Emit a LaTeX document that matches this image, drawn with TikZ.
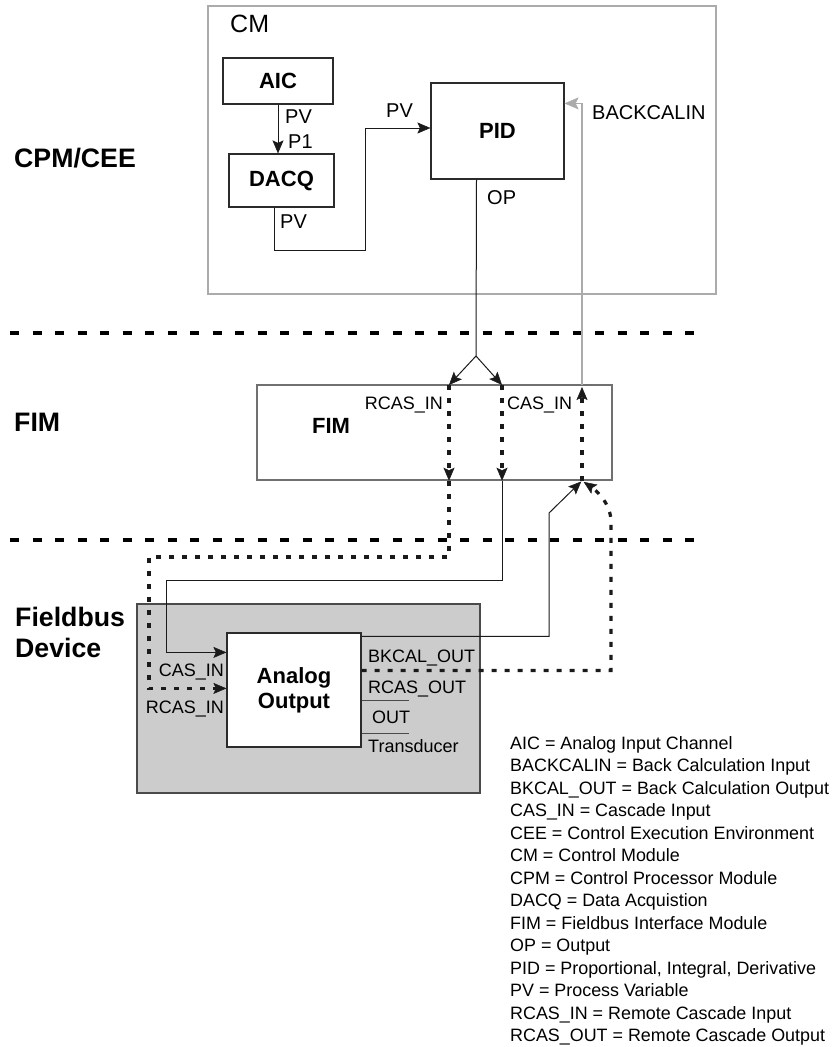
\documentclass[tikz,border=0pt]{standalone}
\usepackage{fontspec}
\setmainfont{Liberation Sans}
\usetikzlibrary{arrows.meta,calc}
\definecolor{boxline}{HTML}{2B2B2B}
\definecolor{cmgray}{HTML}{ABABAB}
\definecolor{fimline}{HTML}{707070}
\definecolor{devfill}{HTML}{CCCCCC}
\definecolor{devline}{HTML}{4A4A4A}
\definecolor{wire}{HTML}{1A1A1A}
\tikzset{
  blk/.style={draw=boxline, line width=1.2pt, inner sep=0pt,
    font=\bfseries\fontsize{22}{25}\selectfont},
  blktext/.style={inner sep=0pt, font=\bfseries\fontsize{22}{25}\selectfont},
  cmframe/.style={draw=cmgray, line width=1.5pt, inner sep=0pt},
  fimframe/.style={draw=fimline, line width=1.5pt, inner sep=0pt},
  devframe/.style={draw=devline, fill=devfill, line width=1.5pt, inner sep=0pt},
  aobox/.style={blk, fill=white, align=center},
  lbl/.style={inner sep=0pt, font=\fontsize{18}{21}\selectfont},
  cmlbl/.style={inner sep=0pt, font=\fontsize{20}{23}\selectfont},
  tiername/.style={inner sep=0pt, align=left, font=\bfseries\fontsize{26.7}{31}\selectfont},
  legtext/.style={inner sep=0pt, font=\fontsize{17.9}{21}\selectfont},
  % connectors
  wireline/.style={line width=1pt, draw=wire},
  sig/.style={wireline, -{Stealth[length=13pt,width=11pt,inset=2.5pt,line width=0.5pt]}},
  dotsig/.style={sig, line width=3.2pt, dash pattern=on 5pt off 8pt},
  backsig/.style={line width=1.5pt, draw=cmgray,
    -{Stealth[length=14pt,width=12pt,inset=3pt,line width=0.5pt]}},
  stub/.style={line width=1pt, draw=devline},
  tierline/.style={line width=4pt, dash pattern=on 9pt off 13.5pt},
}

\begin{document}
\begin{tikzpicture}[x=1pt,y=-1pt]
  \useasboundingbox (0,0) rectangle (838,1047);
  % tier separators and tier names
  \draw[tierline] (10,333) -- (700,333);
  \draw[tierline] (10,540) -- (700,540);
  \node[tiername, anchor=base west] (tiercpm) at (14,167) {CPM/CEE};
  \node[tiername, anchor=base west] (tierfim) at (14,431) {FIM};
  \node[tiername, anchor=base west] (tierdev) at (15,657) {Fieldbus\\Device};

  % control module
  \node[cmframe, minimum width=508pt, minimum height=288pt] (cm) at (462,150) {};
  \node[inner sep=0pt, font=\fontsize{25}{29}\selectfont, anchor=base west] (cmname) at (230,32) {CM};
  \node[blk, minimum width=110pt, minimum height=46pt] (aic) at (278,81) {AIC};
  \node[blk, minimum width=105pt, minimum height=53pt] (dacq) at (281.5,180.5) {DACQ};
  \node[blk, minimum width=133pt, minimum height=96pt] (pid) at (497.5,131) {PID};
  \node[cmlbl, anchor=base west] (aicpv) at (285,123) {PV};
  \node[cmlbl, anchor=base west] (dacqp) at (288,148) {P1};
  \node[cmlbl, anchor=base west] (dacqpv) at (280,228) {PV};
  \node[cmlbl, anchor=base west] (pidpv) at (386,117) {PV};
  \node[cmlbl, anchor=base west] (pidop) at (487,204) {OP};
  \node[cmlbl, anchor=base west] (pidbc) at (592,119) {BACKCALIN};
  \coordinate (dacqout) at ($(dacq.south)+(-7,0)$);
  \coordinate (pvturn) at (365,250);
  \coordinate (pidin) at ($(pid.west)+(0,-3)$);
  \coordinate (opout) at ($(pid.south)+(-21,0)$);
  \coordinate (opsplit) at (476,356);
  \coordinate (bcin) at ($(pid.north east)+(0,21)$);

  % fieldbus interface module
  \node[fimframe, minimum width=355pt, minimum height=95pt] (fim) at (434.5,432.5) {};
  \node[blktext, anchor=base] (fimname) at (331,433) {FIM};
  \node[lbl, anchor=base east] (fimrcas) at (443,409) {RCAS\_IN};
  \node[lbl, anchor=base west] (fimcas) at (507,409) {CAS\_IN};
  \coordinate (rcasup) at (449,385);
  \coordinate (casup) at (502,385);
  \coordinate (bcup) at (582,385);
  \coordinate (rcasdn) at (rcasup |- fim.south);
  \coordinate (casdn) at (casup |- fim.south);
  \coordinate (bcdn) at (bcup |- fim.south);

  % fieldbus device
  \node[devframe, minimum width=343pt, minimum height=189pt] (dev) at (308.5,698.5) {};
  \node[aobox, minimum width=134pt, minimum height=114pt] (ao) at (294,690) {Analog\\Output};
  \coordinate (aocas) at ($(ao.north west)+(0,20)$);
  \coordinate (aorcas) at ($(ao.north west)+(0,56)$);
  \coordinate (aobk) at ($(ao.north east)+(0,4)$);
  \coordinate (aorcout) at ($(ao.north east)+(0,38)$);
  \coordinate (aoout) at ($(ao.north east)+(0,68)$);
  \coordinate (aotd) at ($(ao.north east)+(0,101)$);
  \node[lbl, anchor=base east] (aocasl) at (224,676) {CAS\_IN};
  \node[lbl, anchor=base east] (aorcasl) at (224,713) {RCAS\_IN};
  \node[lbl, anchor=base west] (aobkl) at (368,662) {BKCAL\_OUT};
  \node[lbl, anchor=base west] (aorcoutl) at (368,693) {RCAS\_OUT};
  \node[lbl, anchor=base west] (aooutl) at (372,723) {OUT};
  \node[lbl, anchor=base west] (aotdl) at (368,752) {Transducer};
  \draw[stub] (aoout) -- ++(47,0);
  \draw[stub] (aotd) -- ++(47,0);

  % wiring inside the CM
  \draw[sig] (aic.south) -- (aic.south |- dacq.north);
  \draw[sig] (dacqout) |- (pvturn) |- (pidin);
  \draw[wireline] (opout) -- (opsplit);
  \draw[sig] (opsplit) -- (rcasup);
  \draw[sig] (opsplit) -- (casup);
  \draw[backsig] (bcup) |- (bcin);
  % through the FIM
  \draw[dotsig] (rcasup) -- (rcasdn);
  \draw[dotsig] (casup) -- (casdn);
  \draw[dotsig, shorten >=2pt] (bcdn) -- (bcup);
  % down to the device
  \coordinate (rcasturn) at (149,557);
  \coordinate (casturn) at (166,580);
  \draw[dotsig] (rcasdn) |- (rcasturn) |- (aorcas);
  \draw[sig] (casdn) |- (casturn) |- (aocas);
  % back up to the FIM
  \coordinate (bkturn) at (549,513);
  \coordinate (rcoturn) at (611,522);
  \draw[sig, shorten >=1pt] (aobk) -| (bkturn) -- (bcdn);
  \draw[dotsig, shorten >=2pt] (aorcout) -| (rcoturn)
    .. controls (611,504) and (597,491) .. (bcdn);

  % legend
  \def\lh{22.5}
  \foreach \t [count=\i from 0] in {AIC = Analog Input Channel,
      BACKCALIN = Back Calculation Input, BKCAL\_OUT = Back Calculation Output,
      CAS\_IN = Cascade Input, CEE = Control Execution Environment,
      CM = Control Module, CPM = Control Processor Module, DACQ = Data Acquistion,
      FIM = Fieldbus Interface Module, OP = Output,
      {PID = Proportional, Integral, Derivative}, PV = Process Variable,
      RCAS\_IN = Remote Cascade Input, RCAS\_OUT = Remote Cascade Output} {
    \node[legtext, anchor=base west] (leg\i) at (510,{749+\lh*\i}) {\t};
  }
\end{tikzpicture}
\end{document}
